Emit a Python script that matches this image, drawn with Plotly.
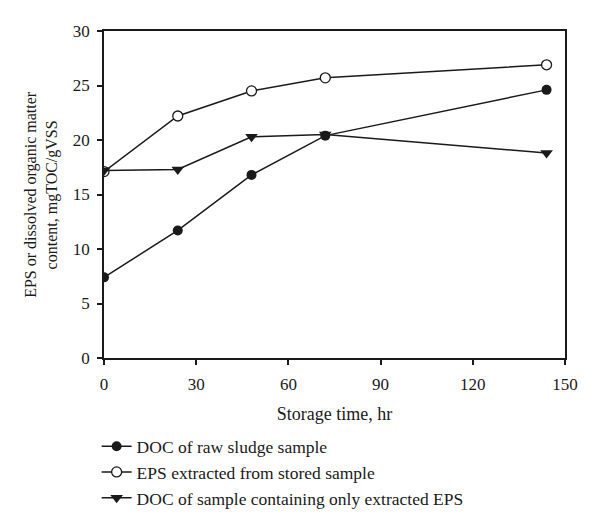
import plotly.graph_objects as go

hours = [0, 24, 48, 72, 144]
doc_raw = [7.4, 11.7, 16.8, 20.4, 24.6]
eps_stored = [17.1, 22.2, 24.5, 25.7, 26.9]
doc_eps_only = [17.2, 17.3, 20.3, 20.5, 18.8]

x_ticks = [0, 30, 60, 90, 120, 150]
y_ticks = [0, 5, 10, 15, 20, 25, 30]

serif = "Liberation Serif, Times New Roman, serif"
ink = "#1a1a1a"

fig = go.Figure()

fig.add_trace(go.Scatter(
    x=hours, y=doc_raw, name="DOC of raw sludge sample",
    mode="lines+markers", line=dict(color=ink, width=1.5),
    marker=dict(symbol="circle", size=10, color=ink)
))
fig.add_trace(go.Scatter(
    x=hours, y=eps_stored, name="EPS extracted from stored sample",
    mode="lines+markers", line=dict(color=ink, width=1.5),
    marker=dict(symbol="circle", size=10, color="white",
                line=dict(color=ink, width=1.3))
))
fig.add_trace(go.Scatter(
    x=hours, y=doc_eps_only, name="DOC of sample containing only extracted EPS",
    mode="lines+markers", line=dict(color=ink, width=1.5),
    marker=dict(symbol="triangle-down", size=11, color=ink)
))

# page body adds an 8px offset, so margins are shifted to compensate
fig.update_layout(
    width=600, height=526,
    margin=dict(l=96, r=43, t=23, b=176),
    paper_bgcolor="white", plot_bgcolor="white",
    font=dict(family=serif, size=17, color=ink),
    showlegend=True,
    legend=dict(
        x=-0.016, xanchor="left", y=-0.215, yanchor="top",
        orientation="v", font=dict(family=serif, size=17.5, color=ink),
        tracegroupgap=0, itemwidth=30, bgcolor="rgba(0,0,0,0)"
    ),
)

fig.update_xaxes(
    range=[0, 150], tickvals=x_ticks, ticks="outside", ticklen=5,
    tickwidth=1.5, tickcolor=ink, showline=True, linecolor=ink,
    linewidth=1.5, mirror=True, showgrid=False, zeroline=False,
    tickfont=dict(size=17), ticklabelstandoff=5,
    title=dict(text="Storage time, hr", font=dict(size=18), standoff=14),
)
fig.update_yaxes(
    range=[0, 30], tickvals=y_ticks, ticks="outside", ticklen=5,
    tickwidth=1.5, tickcolor=ink, showline=True, linecolor=ink,
    linewidth=1.5, mirror=True, showgrid=False, zeroline=False,
    tickfont=dict(size=17), ticklabelstandoff=4, automargin=False,
)

fig.add_annotation(
    text="EPS or dissolved organic matter<br>content, mgTOC/gVSS",
    xref="paper", yref="paper", x=-0.136, y=0.5,
    xanchor="center", yanchor="middle", textangle=-90,
    showarrow=False, font=dict(family=serif, size=16, color=ink),
)

fig.write_html("out.html")
